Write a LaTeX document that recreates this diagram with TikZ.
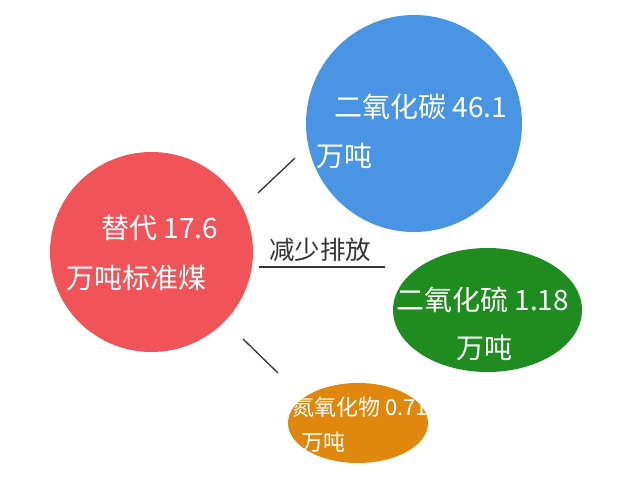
\documentclass[tikz,border=0pt]{standalone}
\usepackage{fontspec}
\setmainfont{Noto Sans CJK SC}
\usetikzlibrary{shapes.geometric}
\definecolor{coalred}{HTML}{F05458}
\definecolor{co2blue}{HTML}{4A94E4}
\definecolor{so2green}{HTML}{1E8C1E}
\definecolor{noxorange}{HTML}{E0880E}
\definecolor{linegray}{HTML}{333333}
\begin{document}
\begin{tikzpicture}[x=1pt,y=-1pt,
        bubble/.style={ellipse,inner sep=0pt},
        word/.style={anchor=base west,inner sep=0pt,text=white,font=\fontsize{28}{28}\selectfont},
        small/.style={word,font=\fontsize{22}{22}\selectfont},
        link/.style={linegray,line width=1.3pt}]
    \useasboundingbox (0,0) rectangle (640,479);
    % the four bubbles
    \node[bubble,fill=coalred,minimum width=203pt,minimum height=200pt] (coal) at (151.5,252) {};
    \node[bubble,fill=co2blue,minimum width=216pt,minimum height=217pt] (co2) at (414,123.5) {};
    \node[bubble,fill=so2green,minimum width=189pt,minimum height=124pt] (so2) at (487.5,310) {};
    \node[bubble,fill=noxorange,minimum width=140pt,minimum height=80pt] (nox) at (358,423) {};
    % texts
    \node[word] (coal1) at (101,238) {替代 17.6};
    \node[word] (coal2) at (66,288) {万吨标准煤};
    \node[word] (co21) at (334,117) {二氧化碳 46.1};
    \node[word] (co22) at (316,166) {万吨};
    \node[word] (so21) at (396,310) {二氧化硫 1.18};
    \node[word] (so22) at (456,358) {万吨};
    \node[small] (nox1) at (292,415) {氮氧化物 0.71};
    \node[small] (nox2) at (301,450) {万吨};
    \node[word,text=linegray,font=\fontsize{25.5}{25.5}\selectfont] (cut) at (269,259) {减少排放};
    % lines
    \coordinate (up1) at (258,193);
    \coordinate (up2) at (295,158);
    \coordinate (mid1) at (259,267);
    \coordinate (mid2) at (385,267);
    \coordinate (low1) at (243,339);
    \coordinate (low2) at (278,373);
    \draw[link] (up1) -- (up2);
    \draw[link] (mid1) -- (mid2);
    \draw[link] (low1) -- (low2);
\end{tikzpicture}
\end{document}
